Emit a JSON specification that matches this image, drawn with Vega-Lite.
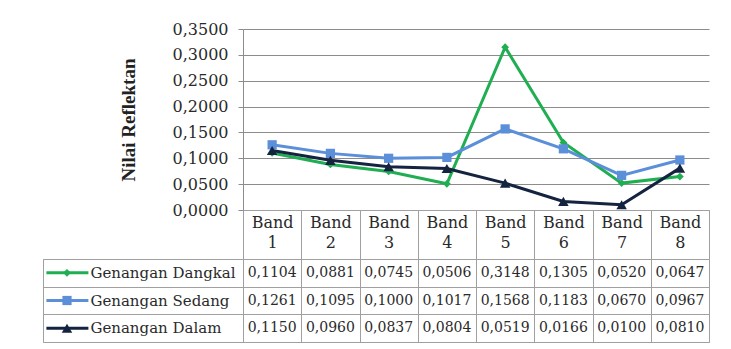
{
  "$schema": "https://vega.github.io/schema/vega-lite/v6.json",
  "padding": {"left": 42, "top": 21, "right": 20, "bottom": 6},
  "background": "white",
  "datasets": {
    "reflektan": [
      {"band": "Band 1", "series": "Genangan Dangkal", "value": 0.1104},
      {"band": "Band 2", "series": "Genangan Dangkal", "value": 0.0881},
      {"band": "Band 3", "series": "Genangan Dangkal", "value": 0.0745},
      {"band": "Band 4", "series": "Genangan Dangkal", "value": 0.0506},
      {"band": "Band 5", "series": "Genangan Dangkal", "value": 0.3148},
      {"band": "Band 6", "series": "Genangan Dangkal", "value": 0.1305},
      {"band": "Band 7", "series": "Genangan Dangkal", "value": 0.0520},
      {"band": "Band 8", "series": "Genangan Dangkal", "value": 0.0647},
      {"band": "Band 1", "series": "Genangan Sedang", "value": 0.1261},
      {"band": "Band 2", "series": "Genangan Sedang", "value": 0.1095},
      {"band": "Band 3", "series": "Genangan Sedang", "value": 0.1000},
      {"band": "Band 4", "series": "Genangan Sedang", "value": 0.1017},
      {"band": "Band 5", "series": "Genangan Sedang", "value": 0.1568},
      {"band": "Band 6", "series": "Genangan Sedang", "value": 0.1183},
      {"band": "Band 7", "series": "Genangan Sedang", "value": 0.0670},
      {"band": "Band 8", "series": "Genangan Sedang", "value": 0.0967},
      {"band": "Band 1", "series": "Genangan Dalam", "value": 0.1150},
      {"band": "Band 2", "series": "Genangan Dalam", "value": 0.0960},
      {"band": "Band 3", "series": "Genangan Dalam", "value": 0.0837},
      {"band": "Band 4", "series": "Genangan Dalam", "value": 0.0804},
      {"band": "Band 5", "series": "Genangan Dalam", "value": 0.0519},
      {"band": "Band 6", "series": "Genangan Dalam", "value": 0.0166},
      {"band": "Band 7", "series": "Genangan Dalam", "value": 0.0100},
      {"band": "Band 8", "series": "Genangan Dalam", "value": 0.0810}
    ],
    "series": [
      {"series": "Genangan Dangkal"},
      {"series": "Genangan Sedang"},
      {"series": "Genangan Dalam"}
    ]
  },
  "columns": 2,
  "spacing": {"row": 49, "column": 0},
  "bounds": "flush",
  "align": "each",
  "concat": [
    {
      "width": 200,
      "height": 181,
      "view": {"stroke": null},
      "data": {"values": [{"blank": ""}]},
      "mark": {"type": "text"},
      "encoding": {"text": {"field": "blank"}}
    },
    {
      "width": 466,
      "height": 181,
      "view": {"stroke": null},
      "data": {"name": "reflektan"},
      "encoding": {
        "x": {
          "field": "band",
          "type": "ordinal",
          "bandPosition": 0.5,
          "scale": {"type": "band", "paddingInner": 0, "paddingOuter": 0},
          "axis": {
            "title": null,
            "labelAngle": 0,
            "labelExpr": "split(datum.label, ' ')",
            "labelBaseline": "top",
            "labelLineHeight": 20,
            "labelFont": "DejaVu Serif",
            "labelFontSize": 16,
            "labelColor": "#2a2a2a",
            "labelPadding": -45,
            "labelBound": false,
            "labelOverlap": false,
            "tickBand": "extent",
            "tickSize": 49,
            "tickColor": "#a0a0a0",
            "domainColor": "#a0a0a0",
            "grid": false
          }
        },
        "y": {
          "field": "value",
          "type": "quantitative",
          "scale": {"domain": [0, 0.35], "nice": false},
          "axis": {
            "title": "Nilai Reflektan",
            "titleFont": "Liberation Serif",
            "titleFontSize": 19,
            "titleFontWeight": "bold",
            "titleColor": "#222222",
            "titlePadding": 34,
            "values": [0, 0.05, 0.1, 0.15, 0.2, 0.25, 0.3, 0.35],
            "format": ".4f",
            "labelFont": "DejaVu Serif",
            "labelFontSize": 16,
            "labelColor": "#2a2a2a",
            "labelPadding": 10,
            "tickSize": 5,
            "tickColor": "#8c8c8c",
            "domainColor": "#8c8c8c",
            "grid": true,
            "gridColor": "#8c8c8c"
          }
        },
        "color": {
          "field": "series",
          "type": "nominal",
          "scale": {
            "domain": ["Genangan Dangkal", "Genangan Sedang", "Genangan Dalam"],
            "range": ["#1fae52", "#5b8fd9", "#14233f"]
          },
          "legend": null
        }
      },
      "layer": [
        {"mark": {"type": "line", "strokeWidth": 3}},
        {
          "mark": {"type": "point", "filled": true, "opacity": 1},
          "encoding": {
            "shape": {
              "field": "series",
              "type": "nominal",
              "scale": {
                "domain": ["Genangan Dangkal", "Genangan Sedang", "Genangan Dalam"],
                "range": ["diamond", "square", "triangle-up"]
              },
              "legend": null
            },
            "size": {
              "field": "series",
              "type": "nominal",
              "scale": {
                "domain": ["Genangan Dangkal", "Genangan Sedang", "Genangan Dalam"],
                "range": [60, 110, 120]
              },
              "legend": null
            }
          }
        }
      ]
    },
    {
      "width": 200,
      "height": 83,
      "view": {"stroke": "#a0a0a0"},
      "data": {"name": "series"},
      "encoding": {
        "y": {
          "field": "series",
          "type": "nominal",
          "bandPosition": 0.5,
          "scale": {
            "type": "band",
            "domain": ["Genangan Dangkal", "Genangan Sedang", "Genangan Dalam"],
            "paddingInner": 0,
            "paddingOuter": 0
          },
          "axis": {
            "title": null,
            "labels": false,
            "ticks": false,
            "domain": false,
            "grid": true,
            "tickBand": "extent",
            "gridColor": "#a0a0a0"
          }
        },
        "color": {
          "field": "series",
          "type": "nominal",
          "scale": {
            "domain": ["Genangan Dangkal", "Genangan Sedang", "Genangan Dalam"],
            "range": ["#1fae52", "#5b8fd9", "#14233f"]
          },
          "legend": null
        }
      },
      "layer": [
        {
          "mark": {"type": "rule", "strokeWidth": 3},
          "encoding": {
            "x": {"datum": 0.017, "type": "quantitative", "scale": {"domain": [0, 1]}, "axis": null},
            "x2": {"datum": 0.227}
          }
        },
        {
          "mark": {"type": "point", "filled": true, "opacity": 1},
          "encoding": {
            "x": {"datum": 0.12, "type": "quantitative"},
            "shape": {
              "field": "series",
              "type": "nominal",
              "scale": {
                "domain": ["Genangan Dangkal", "Genangan Sedang", "Genangan Dalam"],
                "range": ["diamond", "square", "triangle-up"]
              },
              "legend": null
            },
            "size": {
              "field": "series",
              "type": "nominal",
              "scale": {
                "domain": ["Genangan Dangkal", "Genangan Sedang", "Genangan Dalam"],
                "range": [60, 110, 120]
              },
              "legend": null
            }
          }
        },
        {
          "mark": {"type": "text", "align": "left", "baseline": "middle", "font": "DejaVu Serif", "fontSize": 15, "color": "#2a2a2a"},
          "encoding": {
            "x": {"datum": 0.237, "type": "quantitative"},
            "text": {"field": "series"},
            "color": {"value": "#2a2a2a"}
          }
        }
      ]
    },
    {
      "width": 466,
      "height": 83,
      "view": {"stroke": "#a0a0a0"},
      "data": {"name": "reflektan"},
      "mark": {"type": "text", "baseline": "middle", "font": "DejaVu Serif", "fontSize": 14, "color": "#2a2a2a"},
      "encoding": {
        "x": {
          "field": "band",
          "type": "ordinal",
          "scale": {"type": "band", "paddingInner": 0, "paddingOuter": 0},
          "axis": {
            "title": null,
            "labels": false,
            "ticks": false,
            "domain": false,
            "grid": true,
            "tickBand": "extent",
            "gridColor": "#a0a0a0"
          }
        },
        "y": {
          "field": "series",
          "type": "nominal",
          "scale": {
            "type": "band",
            "domain": ["Genangan Dangkal", "Genangan Sedang", "Genangan Dalam"],
            "paddingInner": 0,
            "paddingOuter": 0
          },
          "axis": {
            "title": null,
            "labels": false,
            "ticks": false,
            "domain": false,
            "grid": true,
            "tickBand": "extent",
            "gridColor": "#a0a0a0"
          }
        },
        "text": {"field": "value", "type": "quantitative", "format": ".4f"}
      }
    }
  ],
  "config": {
    "font": "DejaVu Serif",
    "locale": {
      "number": {"decimal": ",", "thousands": ".", "grouping": [3], "currency": ["", ""]}
    }
  }
}
